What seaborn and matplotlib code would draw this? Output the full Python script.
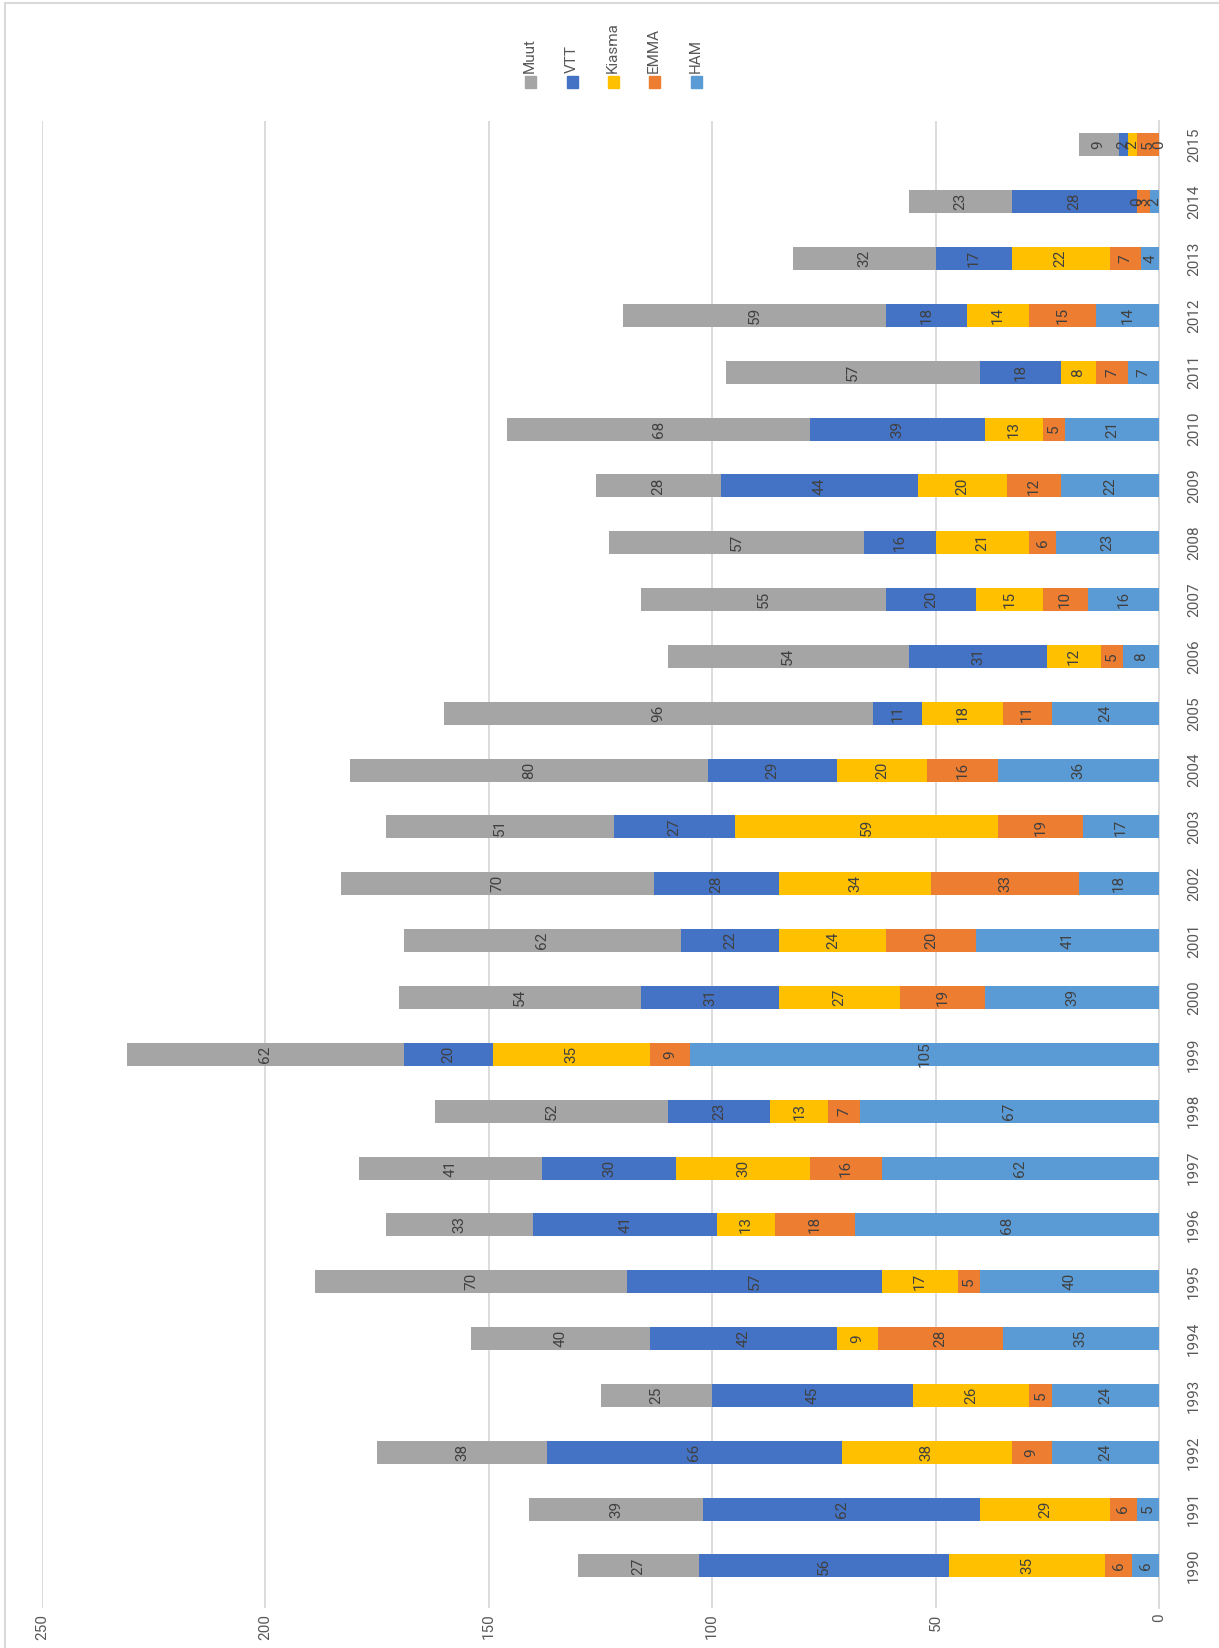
import pandas as pd
import matplotlib.pyplot as plt
import seaborn as sns
from matplotlib.patches import Rectangle
from matplotlib.lines import Line2D

# vuodet ja sarjat (pinottu alhaalta ylös: HAM, EMMA, Kiasma, VTT, Muut)
years = [str(y) for y in range(1990, 2016)]
ham = [6, 5, 24, 24, 35, 40, 68, 62, 67, 105, 39, 41, 18, 17, 36, 24, 8, 16, 23, 22, 21, 7, 14, 4, 2, 0]
emma = [6, 6, 9, 5, 28, 5, 18, 16, 7, 9, 19, 20, 33, 19, 16, 11, 5, 10, 6, 12, 5, 7, 15, 7, 3, 5]
kiasma = [35, 29, 38, 26, 9, 17, 13, 30, 13, 35, 27, 24, 34, 59, 20, 18, 12, 15, 21, 20, 13, 8, 14, 22, 0, 2]
vtt = [56, 62, 66, 45, 42, 57, 41, 30, 23, 20, 31, 22, 28, 27, 29, 11, 31, 20, 16, 44, 39, 18, 18, 17, 28, 2]
muut = [27, 39, 38, 25, 40, 70, 33, 41, 52, 62, 54, 62, 70, 51, 80, 96, 54, 55, 57, 28, 68, 57, 59, 32, 23, 9]

series = ["HAM", "EMMA", "Kiasma", "VTT", "Muut"]
colors = {"HAM": "#5B9BD5", "EMMA": "#ED7D31", "Kiasma": "#FFC000", "VTT": "#4472C4", "Muut": "#A5A5A5"}

df = pd.DataFrame({"Vuosi": years, "HAM": ham, "EMMA": emma, "Kiasma": kiasma, "VTT": vtt, "Muut": muut})
cum = df[series].cumsum(axis=1)

sns.set_style("white")
plt.rcParams['font.family'] = ['Roboto', 'DejaVu Sans']

W, H = 1219, 1648
fig = plt.figure(figsize=(W / 100, H / 100), dpi=100)
ax = fig.add_axes([42 / W, 1 - 1608 / H, (1159 - 42) / W, (1608 - 121) / H])

order = years[::-1]
# pinotaan piirtämällä kumulatiiviset summat suurimmasta pienimpään
for s in series[::-1]:
    sns.barplot(x=cum[s], y=df["Vuosi"], order=order, orient="h", color=colors[s],
                saturation=1, width=0.405, linewidth=0, errorbar=None, ax=ax, zorder=3)

# arvot palkkien keskelle
for i, yr in enumerate(years):
    pos = 25 - i
    left = 0
    for s in series:
        v = df.loc[i, s]
        ax.text(left + v / 2, pos, str(v), rotation=90, ha="center", va="center",
                fontsize=11, color="#404040", zorder=4)
        left += v

ax.set_xlim(250, 0)
ax.set_ylim(25.74, -0.42)
ax.set_xticks(range(0, 251, 50))
ax.set_xticklabels([str(t) for t in range(0, 251, 50)], rotation=90, fontsize=11, color="#595959")
ax.yaxis.tick_right()
ax.set_yticks(range(26))
ax.set_yticklabels(order, rotation=90, fontsize=11, color="#595959", va="center")
ax.tick_params(axis="y", length=0, pad=20)
ax.tick_params(axis="x", length=0, pad=4)
ax.set_xlabel("")
ax.set_ylabel("")
ax.grid(axis="x", color="#D9D9D9", linewidth=1.3, zorder=0)
for sp in ["top", "bottom", "left"]:
    ax.spines[sp].set_visible(False)
ax.spines["right"].set_color("#D9D9D9")
ax.spines["right"].set_linewidth(1.3)

# selite
leg_x = [530, 572, 613, 654, 696]
for s, lx in zip(series[::-1], leg_x):
    fig.patches.append(Rectangle(((lx - 5.5) / W, 1 - 87.5 / H), 11 / W, 11 / H,
                                 transform=fig.transFigure, color=colors[s]))
    fig.text(lx / W, 1 - 73 / H, s, rotation=90, ha="center", va="bottom",
             fontsize=11, color="#595959")

# kaavion reunus
fig.lines.append(Line2D([5 / W, 1], [1 - 3 / H, 1 - 3 / H], transform=fig.transFigure, color="#D9D9D9", linewidth=1.5))
fig.lines.append(Line2D([5 / W, 5 / W], [0, 1 - 3 / H], transform=fig.transFigure, color="#D9D9D9", linewidth=1.5))

fig.savefig("out.png", dpi=100)
